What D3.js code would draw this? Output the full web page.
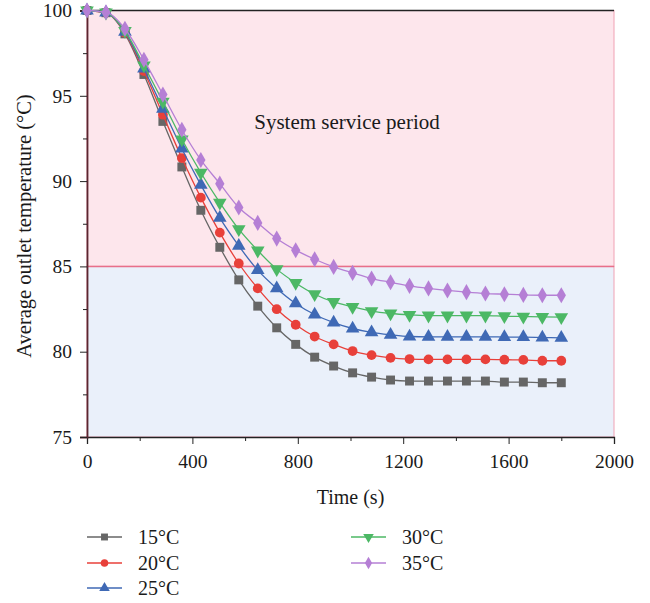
<!DOCTYPE html>
<html lang="en">
<head>
<meta charset="UTF-8">
<title>Average outlet temperature</title>
<script src="https://d3js.org/d3.v7.min.js"></script>
<style>
  body { margin: 0; background: #fff; }
  svg text { font-family: "Liberation Serif", "DejaVu Serif", serif; fill: #1a1a1a; }
</style>
</head>
<body>
<div id="chart"></div>
<script>
// time points (s)
const times = [0, 72, 144, 216, 288, 360, 432, 504, 576, 648, 720, 792, 864, 936, 1008, 1080,
  1152, 1224, 1296, 1368, 1440, 1512, 1584, 1656, 1728, 1800];

// outlet temperature for each inlet temperature
const t15 = [100, 99.87, 98.63, 96.25, 93.5, 90.83, 88.29, 86.12, 84.21, 82.67, 81.4, 80.43, 79.68, 79.16, 78.76, 78.51,
  78.34, 78.28, 78.28, 78.28, 78.28, 78.28, 78.22, 78.22, 78.18, 78.18];
const t20 = [100, 99.87, 98.7, 96.45, 93.89, 91.35, 89.03, 86.98, 85.17, 83.71, 82.49, 81.58, 80.89, 80.43, 80.04, 79.8,
  79.64, 79.57, 79.55, 79.55, 79.55, 79.55, 79.53, 79.52, 79.47, 79.47];
const t25 = [100, 99.88, 98.75, 96.59, 94.24, 91.9, 89.78, 87.84, 86.2, 84.78, 83.71, 82.83, 82.18, 81.71, 81.36, 81.13,
  80.99, 80.89, 80.87, 80.87, 80.87, 80.87, 80.86, 80.85, 80.83, 80.81];
const t30 = [100, 99.88, 98.8, 96.78, 94.65, 92.45, 90.49, 88.74, 87.18, 85.93, 84.84, 84.03, 83.37, 82.92, 82.63, 82.38,
  82.24, 82.16, 82.12, 82.12, 82.12, 82.12, 82.08, 82.06, 82.04, 82.03];
const t35 = [100, 99.9, 98.93, 97.11, 95.07, 93.01, 91.24, 89.85, 88.45, 87.55, 86.63, 85.95, 85.42, 84.97, 84.62, 84.29,
  84.07, 83.86, 83.71, 83.59, 83.49, 83.41, 83.37, 83.33, 83.31, 83.31];

const seriesNames = ["15°C", "20°C", "25°C", "30°C", "35°C"];
const seriesValues = [t15, t20, t25, t30, t35];
const xTicks = [0, 400, 800, 1200, 1600, 2000];
const yTicks = [75, 80, 85, 90, 95, 100];
const threshold = 85;

// styles per series
const colors = ["#666666", "#e8403a", "#3f69b5", "#4cb865", "#b57fd5"];
const shapes = [d3.symbolSquare, d3.symbolCircle, d3.symbolTriangle, d3.symbolTriangle, d3.symbolDiamond];
const sizes = [80, 75, 80, 80, 75];
const rotates = [0, 0, 0, 180, 0];

const W = 650, H = 603;
const svg = d3.select("#chart").append("svg")
  .attr("width", W).attr("height", H);

const x = d3.scaleLinear().domain([0, 2000]).range([87, 614]);
const y = d3.scaleLinear().domain([75, 100]).range([437, 10.5]);

// background regions
svg.append("rect")
  .attr("x", x(0)).attr("y", y(100))
  .attr("width", x(2000) - x(0)).attr("height", y(threshold) - y(100))
  .attr("fill", "#fde6ec").attr("stroke", "#f0a2b4").attr("stroke-width", 1);
svg.append("rect")
  .attr("x", x(0)).attr("y", y(threshold))
  .attr("width", x(2000) - x(0)).attr("height", y(75) - y(threshold))
  .attr("fill", "#eaf0fa").attr("stroke", "#f0a2b4").attr("stroke-width", 1);
svg.append("line")
  .attr("x1", x(0)).attr("x2", x(2000))
  .attr("y1", y(threshold)).attr("y2", y(threshold))
  .attr("stroke", "#e86f8a").attr("stroke-width", 1.5);

svg.append("text")
  .attr("x", 347).attr("y", 129)
  .attr("text-anchor", "middle")
  .attr("font-size", 21)
  .text("System service period");

// axes
svg.append("g").attr("transform", `translate(0,${y(75)})`)
  .call(d3.axisBottom(x).tickValues(xTicks).tickSize(7).tickPadding(10).tickFormat(d3.format("d")));
svg.append("g").attr("transform", `translate(0,${y(75)})`)
  .call(d3.axisBottom(x).tickValues(d3.range(200, 2000, 400)).tickSize(4).tickFormat(""))
  .select(".domain").remove();
const yAxis = svg.append("g").attr("transform", `translate(${x(0)},0)`)
  .call(d3.axisLeft(y).tickValues(yTicks).tickSize(7).tickPadding(8));
svg.append("g").attr("transform", `translate(${x(0)},0)`)
  .call(d3.axisLeft(y).tickValues([77.5, 82.5, 87.5, 92.5, 97.5]).tickSize(4).tickFormat(""))
  .select(".domain").remove();

svg.selectAll(".tick text").attr("font-size", 19.5).attr("fill", "#1a1a1a")
  .style("font-family", "'Liberation Serif', 'DejaVu Serif', serif");
svg.selectAll(".domain").attr("stroke", "#222").attr("stroke-width", 1.3);
yAxis.select(".domain").attr("stroke", "#5a2630").attr("stroke-width", 1.8);
svg.selectAll(".tick line").attr("stroke", "#222");

// top border
svg.append("line")
  .attr("x1", x(0)).attr("x2", x(2000))
  .attr("y1", y(100)).attr("y2", y(100))
  .attr("stroke", "#222").attr("stroke-width", 1.3);

// axis titles
svg.append("text")
  .attr("x", x(1000)).attr("y", 504)
  .attr("text-anchor", "middle").attr("font-size", 20)
  .text("Time (s)");
svg.append("text")
  .attr("transform", `translate(31,226) rotate(-90)`)
  .attr("text-anchor", "middle").attr("font-size", 20.5)
  .text("Average outlet temperature (°C)");

// series
const line = d3.line()
  .x((d, i) => x(times[i]))
  .y(d => y(d))
  .curve(d3.curveMonotoneX);

seriesValues.forEach((vals, s) => {
  const g = svg.append("g");
  g.append("path")
    .attr("d", line(vals))
    .attr("fill", "none")
    .attr("stroke", colors[s])
    .attr("stroke-width", 1.3);
  g.selectAll("path.pt")
    .data(vals)
    .join("path")
    .attr("class", "pt")
    .attr("d", d3.symbol().type(shapes[s]).size(sizes[s]))
    .attr("transform", (d, i) => `translate(${x(times[i])},${y(d)}) rotate(${rotates[s]})`)
    .attr("fill", colors[s]);
});

// legend
const legendPos = [[87, 537], [87, 563], [87, 588], [351, 537], [351, 563]];
seriesNames.forEach((name, s) => {
  const [lx, ly] = legendPos[s];
  const g = svg.append("g").attr("transform", `translate(${lx},${ly})`);
  g.append("line").attr("x1", 0).attr("x2", 35).attr("y1", 0).attr("y2", 0)
    .attr("stroke", colors[s]).attr("stroke-width", 1.5);
  g.append("path")
    .attr("d", d3.symbol().type(shapes[s]).size(sizes[s] * 0.6))
    .attr("transform", `translate(17.5,0) rotate(${rotates[s]})`)
    .attr("fill", colors[s]);
  g.append("text")
    .attr("x", 51).attr("y", 7)
    .attr("font-size", 20)
    .text(name);
});
</script>
</body>
</html>
